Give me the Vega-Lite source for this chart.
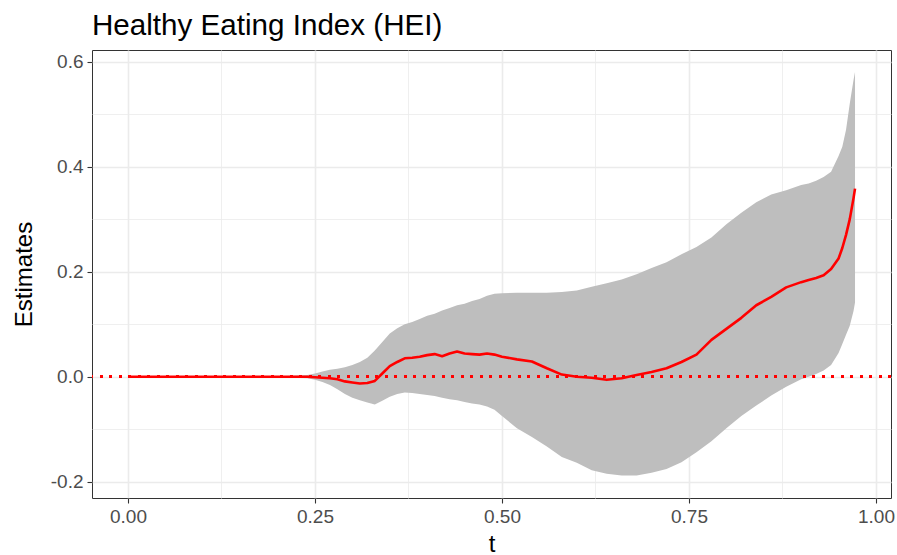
{
  "$schema": "https://vega.github.io/schema/vega-lite/v6.json",
  "autosize": "none",
  "width": 799,
  "height": 448,
  "padding": {"left": 92, "top": 50, "right": 6, "bottom": 57},
  "background": "white",
  "title": {
    "text": "Healthy Eating Index (HEI)",
    "anchor": "start",
    "frame": "group",
    "baseline": "alphabetic",
    "offset": -15,
    "font": "Liberation Sans",
    "fontSize": 29.6,
    "fontWeight": "normal",
    "color": "#000000"
  },
  "config": {
    "view": {"stroke": "#333333", "strokeWidth": 1},
    "axis": {
      "domain": false,
      "gridColor": "#EBEBEB",
      "gridWidth": 1.6,
      "tickColor": "#333333",
      "tickWidth": 1.1,
      "tickSize": 5,
      "labelFont": "Liberation Sans",
      "labelFontSize": 19,
      "labelColor": "#4D4D4D",
      "labelPadding": 4,
      "titleFont": "Liberation Sans",
      "titleFontSize": 24,
      "titleFontWeight": "normal",
      "titleColor": "#000000"
    }
  },
  "data": {
    "values": [
      {"t": 0.00, "est": 0.000, "lower": 0.000, "upper": 0.000},
      {"t": 0.05, "est": 0.000, "lower": 0.000, "upper": 0.000},
      {"t": 0.10, "est": 0.000, "lower": 0.000, "upper": 0.000},
      {"t": 0.15, "est": 0.000, "lower": 0.000, "upper": 0.000},
      {"t": 0.20, "est": 0.000, "lower": -0.001, "upper": 0.001},
      {"t": 0.22, "est": 0.000, "lower": -0.002, "upper": 0.002},
      {"t": 0.24, "est": 0.000, "lower": -0.003, "upper": 0.003},
      {"t": 0.25, "est": -0.001, "lower": -0.006, "upper": 0.006},
      {"t": 0.26, "est": -0.002, "lower": -0.010, "upper": 0.010},
      {"t": 0.27, "est": -0.003, "lower": -0.016, "upper": 0.013},
      {"t": 0.28, "est": -0.005, "lower": -0.024, "upper": 0.015},
      {"t": 0.29, "est": -0.009, "lower": -0.033, "upper": 0.018},
      {"t": 0.30, "est": -0.011, "lower": -0.040, "upper": 0.022},
      {"t": 0.31, "est": -0.013, "lower": -0.045, "upper": 0.028},
      {"t": 0.32, "est": -0.012, "lower": -0.049, "upper": 0.036},
      {"t": 0.33, "est": -0.008, "lower": -0.053, "upper": 0.050},
      {"t": 0.34, "est": 0.006, "lower": -0.046, "upper": 0.066},
      {"t": 0.35, "est": 0.020, "lower": -0.038, "upper": 0.082},
      {"t": 0.36, "est": 0.028, "lower": -0.033, "upper": 0.092},
      {"t": 0.37, "est": 0.035, "lower": -0.030, "upper": 0.100},
      {"t": 0.38, "est": 0.036, "lower": -0.031, "upper": 0.104},
      {"t": 0.39, "est": 0.038, "lower": -0.033, "upper": 0.110},
      {"t": 0.40, "est": 0.041, "lower": -0.035, "upper": 0.116},
      {"t": 0.41, "est": 0.043, "lower": -0.037, "upper": 0.120},
      {"t": 0.42, "est": 0.039, "lower": -0.040, "upper": 0.126},
      {"t": 0.43, "est": 0.044, "lower": -0.043, "upper": 0.131},
      {"t": 0.44, "est": 0.048, "lower": -0.045, "upper": 0.136},
      {"t": 0.45, "est": 0.044, "lower": -0.048, "upper": 0.139},
      {"t": 0.46, "est": 0.043, "lower": -0.051, "upper": 0.144},
      {"t": 0.47, "est": 0.042, "lower": -0.053, "upper": 0.148},
      {"t": 0.48, "est": 0.044, "lower": -0.057, "upper": 0.154},
      {"t": 0.49, "est": 0.042, "lower": -0.063, "upper": 0.158},
      {"t": 0.50, "est": 0.038, "lower": -0.075, "upper": 0.159},
      {"t": 0.52, "est": 0.033, "lower": -0.098, "upper": 0.160},
      {"t": 0.54, "est": 0.029, "lower": -0.115, "upper": 0.160},
      {"t": 0.56, "est": 0.016, "lower": -0.133, "upper": 0.160},
      {"t": 0.58, "est": 0.004, "lower": -0.153, "upper": 0.161},
      {"t": 0.60, "est": 0.000, "lower": -0.164, "upper": 0.164},
      {"t": 0.62, "est": -0.002, "lower": -0.178, "upper": 0.171},
      {"t": 0.64, "est": -0.006, "lower": -0.185, "upper": 0.178},
      {"t": 0.66, "est": -0.003, "lower": -0.188, "upper": 0.185},
      {"t": 0.68, "est": 0.003, "lower": -0.188, "upper": 0.195},
      {"t": 0.70, "est": 0.009, "lower": -0.183, "upper": 0.207},
      {"t": 0.72, "est": 0.016, "lower": -0.176, "upper": 0.218},
      {"t": 0.74, "est": 0.028, "lower": -0.163, "upper": 0.233},
      {"t": 0.76, "est": 0.042, "lower": -0.144, "upper": 0.247},
      {"t": 0.78, "est": 0.070, "lower": -0.123, "upper": 0.265},
      {"t": 0.80, "est": 0.091, "lower": -0.098, "upper": 0.290},
      {"t": 0.82, "est": 0.112, "lower": -0.075, "upper": 0.312},
      {"t": 0.84, "est": 0.136, "lower": -0.055, "upper": 0.332},
      {"t": 0.86, "est": 0.152, "lower": -0.036, "upper": 0.347},
      {"t": 0.88, "est": 0.170, "lower": -0.019, "upper": 0.355},
      {"t": 0.90, "est": 0.180, "lower": -0.005, "upper": 0.365},
      {"t": 0.91, "est": 0.184, "lower": 0.000, "upper": 0.368},
      {"t": 0.92, "est": 0.188, "lower": 0.005, "upper": 0.373},
      {"t": 0.93, "est": 0.193, "lower": 0.012, "upper": 0.380},
      {"t": 0.94, "est": 0.205, "lower": 0.022, "upper": 0.390},
      {"t": 0.95, "est": 0.225, "lower": 0.045, "upper": 0.420},
      {"t": 0.955, "est": 0.245, "lower": 0.062, "upper": 0.438},
      {"t": 0.96, "est": 0.270, "lower": 0.080, "upper": 0.470},
      {"t": 0.965, "est": 0.300, "lower": 0.097, "upper": 0.520},
      {"t": 0.97, "est": 0.340, "lower": 0.125, "upper": 0.565},
      {"t": 0.972, "est": 0.358, "lower": 0.141, "upper": 0.580}
    ]
  },
  "layer": [
    {
      "mark": {"type": "area", "color": "#BEBEBE", "opacity": 1},
      "encoding": {
        "x": {
          "field": "t",
          "type": "quantitative",
          "scale": {"domain": [-0.0481, 1.0201], "nice": false, "zero": false},
          "axis": {
            "values": [0, 0.25, 0.5, 0.75, 1],
            "format": ".2f",
            "title": "t",
            "titlePadding": 6
          }
        },
        "y": {
          "field": "lower",
          "type": "quantitative",
          "scale": {"domain": [-0.231, 0.622], "nice": false, "zero": false},
          "axis": {
            "values": [-0.2, 0, 0.2, 0.4, 0.6],
            "labelExpr": "datum.value < 0 ? '-' + format(-datum.value, '.1f') : format(datum.value, '.1f')",
            "title": "Estimates",
            "titlePadding": 14
          }
        },
        "y2": {"field": "upper"}
      }
    },
    {
      "mark": {"type": "rule", "color": "#FF0000", "strokeWidth": 2.5, "strokeDash": [2.5, 7], "strokeCap": "butt"},
      "encoding": {"y": {"datum": 0, "type": "quantitative", "axis": null}}
    },
    {
      "mark": {"type": "line", "color": "#FF0000", "strokeWidth": 2.6, "strokeJoin": "round"},
      "encoding": {
        "x": {
          "field": "t",
          "type": "quantitative",
          "axis": {
            "values": [0.125, 0.375, 0.625, 0.875],
            "grid": true,
            "gridWidth": 0.8,
            "labels": false,
            "ticks": false,
            "domain": false,
            "title": null
          }
        },
        "y": {
          "field": "est",
          "type": "quantitative",
          "axis": {
            "values": [-0.1, 0.1, 0.3, 0.5],
            "grid": true,
            "gridWidth": 0.8,
            "labels": false,
            "ticks": false,
            "domain": false,
            "title": null
          }
        }
      }
    }
  ],
  "resolve": {"axis": {"x": "independent", "y": "independent"}}
}
